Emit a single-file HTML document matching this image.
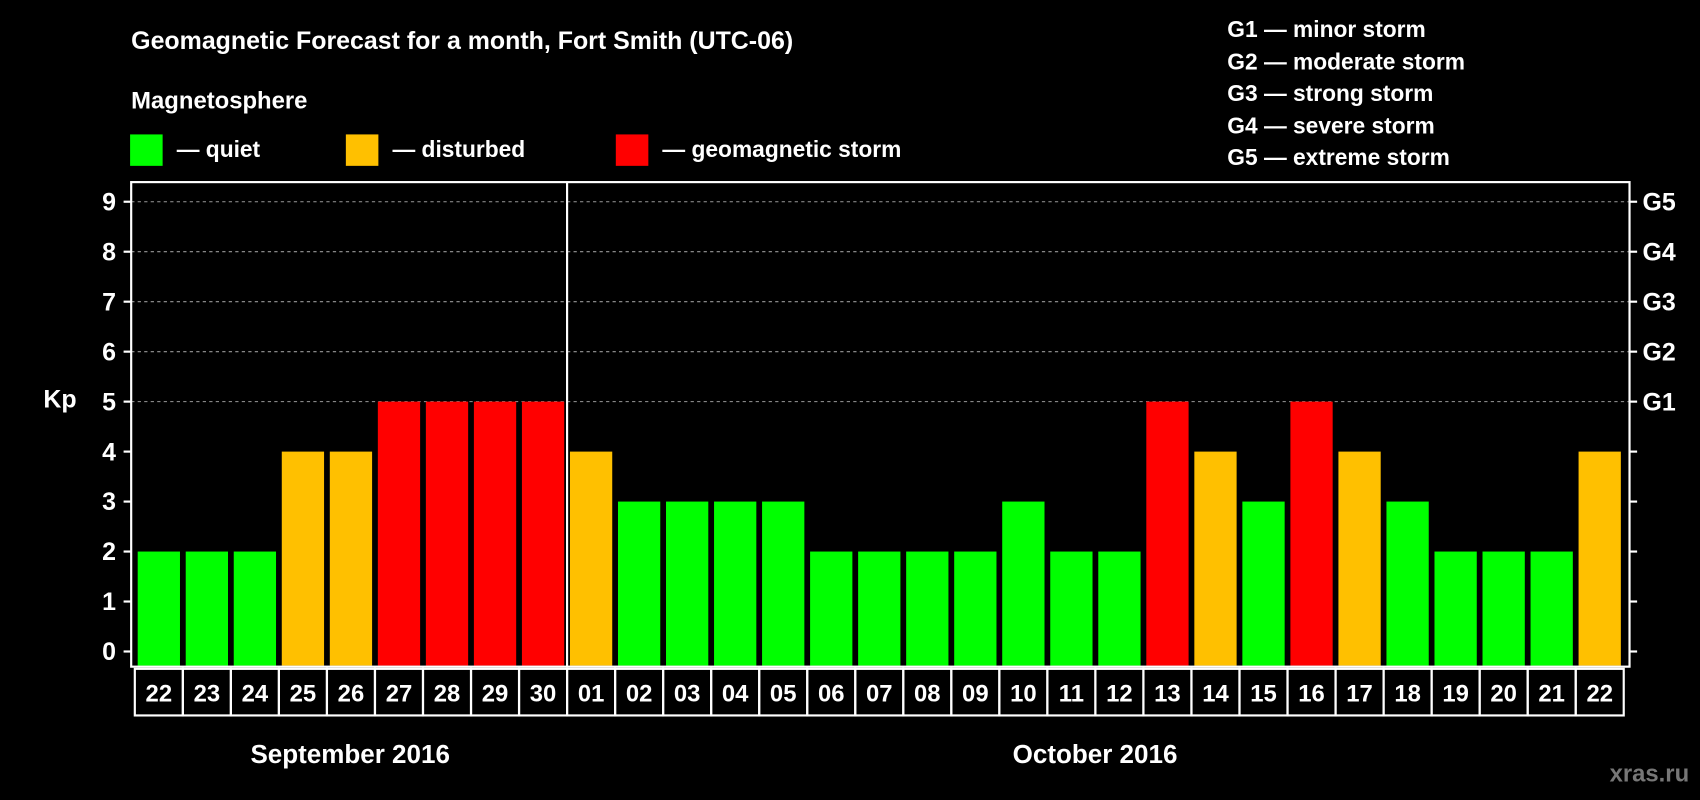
<!DOCTYPE html>
<html><head><meta charset="utf-8"><style>
html,body{margin:0;padding:0;background:#000;width:1700px;height:800px;overflow:hidden}
svg{display:block;font-family:"Liberation Sans",Arial,sans-serif;font-weight:bold}
</style></head><body>
<svg id="chart" width="1700" height="800" viewBox="0 0 1568 738" preserveAspectRatio="none" xmlns="http://www.w3.org/2000/svg">
<rect width="1568" height="738" fill="#000"/>
<text x="121" y="45" fill="#fff" font-size="23">Geomagnetic Forecast for a month, Fort Smith (UTC-06)</text>
<text x="121" y="100" fill="#fff" font-size="22">Magnetosphere</text>
<g><rect x="120" y="124" width="30" height="29" fill="#00ff00"/><text x="163" y="145" fill="#fff" font-size="21">— quiet</text></g>
<g><rect x="319" y="124" width="30" height="29" fill="#ffc000"/><text x="362" y="145" fill="#fff" font-size="21">— disturbed</text></g>
<g><rect x="568" y="124" width="30" height="29" fill="#ff0000"/><text x="611" y="145" fill="#fff" font-size="21">— geomagnetic storm</text></g>
<g fill="#fff" font-size="21">
<text x="1132" y="34">G1 — minor storm</text>
<text x="1132" y="64">G2 — moderate storm</text>
<text x="1132" y="93">G3 — strong storm</text>
<text x="1132" y="123">G4 — severe storm</text>
<text x="1132" y="152">G5 — extreme storm</text>
</g>
<text x="40" y="376" fill="#fff" font-size="23">Kp</text>
<g id="grid"></g><g id="bars"></g><g id="axes"></g><g id="dates"></g>
<text x="323" y="704" fill="#fff" font-size="24" text-anchor="middle">September 2016</text>
<text x="1010" y="704" fill="#fff" font-size="24" text-anchor="middle">October 2016</text>
<text x="1558" y="721" fill="#777" font-size="22" text-anchor="end">xras.ru</text>
</svg>
<script>
const dates = ["22","23","24","25","26","27","28","29","30","01","02","03","04","05","06","07","08","09","10","11","12","13","14","15","16","17","18","19","20","21","22"];
const kpValues = [2,2,2,4,4,5,5,5,5,4,3,3,3,3,2,2,2,2,3,2,2,5,4,3,5,4,3,2,2,2,4];
const yTicks = [0,1,2,3,4,5,6,7,8,9];
const gLabels = ["G1","G2","G3","G4","G5"];
const NS="http://www.w3.org/2000/svg";
const L=121,R=1503,T=168,B=615;
const y = v => 601 - v*46.1;
const x = i => 127 + i*44.3;
const bw = 39;
function mk(tag, attrs, parent){const e=document.createElementNS(NS,tag);for(const k in attrs)e.setAttribute(k,attrs[k]);parent.appendChild(e);return e;}
const grid=document.getElementById('grid'),bars=document.getElementById('bars'),axes=document.getElementById('axes'),dg=document.getElementById('dates');
yTicks.forEach(v=>{
  if(v>=5){const g=mk('line',{x1:L,x2:R,y1:y(v),y2:y(v),stroke:'#999','stroke-dasharray':'3,3','stroke-width':1},grid);
  
  }
  const t=mk('line',{x1:L-7,x2:L,y1:y(v),y2:y(v),stroke:'#fff','stroke-width':2},axes);
  
  
  const t2=mk('line',{x1:R,x2:R+7,y1:y(v),y2:y(v),stroke:'#fff','stroke-width':2},axes);
  
  
  const lb=mk('text',{x:L-14,y:y(v)+8,fill:'#fff','font-size':23,'text-anchor':'end'},axes);
  lb.textContent=v;
  
  
});
gLabels.forEach((g,i)=>{
  const lb=mk('text',{x:R+12,y:y(5+i)+8,fill:'#fff','font-size':23},axes);
  lb.textContent=g;
  
  
});
kpValues.forEach((v,i)=>{
  const c=v>=5?'#ff0000':(v>=4?'#ffc000':'#00ff00');
  const b=mk('rect',{x:x(i),y:y(v),width:bw,height:B-1-y(v),fill:c},bars);
  
  
});
const frame=mk('rect',{x:L,y:T,width:R-L,height:B-T,fill:'none',stroke:'#fff','stroke-width':2},axes);


const sep=mk('line',{x1:(x(8)+bw+x(9))/2,x2:(x(8)+bw+x(9))/2,y1:T,y2:B,stroke:'#fff','stroke-width':2},axes);


dates.forEach((d,i)=>{
  const cx=x(i)+bw/2;
  const r=mk('rect',{x:cx-22.15,y:617,width:44.3,height:43,fill:'none',stroke:'#fff','stroke-width':2},dg);
  
  
  const t=mk('text',{x:cx,y:647,fill:'#fff','font-size':22,'text-anchor':'middle'},dg);
  t.textContent=d;
  
  
});
</script>
</body></html>
